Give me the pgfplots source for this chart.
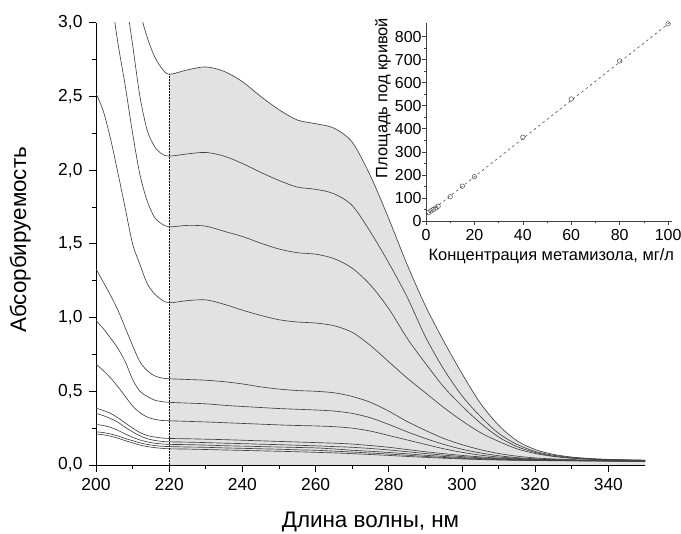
\documentclass[border=0pt]{standalone}
\usepackage{fontspec}
\setmainfont{Liberation Sans}
\usepackage{pgfplots}
\pgfplotsset{compat=1.18}
\usepackage{pgfplotstable}
\definecolor{fillgray}{RGB}{226,226,226}
\definecolor{curvecol}{RGB}{66,66,66}

\pgfplotstableread{
x a b c d e f g h i j k l
200 5.00 4.60 3.90 2.52 1.33 0.98 0.685 0.385 0.35 0.275 0.225 0.21
202 4.70 4.30 3.55 2.40 1.24 0.925 0.64 0.37 0.335 0.268 0.22 0.205
204 4.40 3.95 3.20 2.21 1.15 0.86 0.59 0.35 0.315 0.255 0.21 0.195
206 4.00 3.60 2.86 1.98 1.05 0.79 0.53 0.32 0.29 0.235 0.197 0.182
208 3.70 3.20 2.57 1.74 0.93 0.70 0.465 0.285 0.255 0.21 0.18 0.165
210 3.35 2.85 2.25 1.50 0.81 0.58 0.40 0.25 0.225 0.188 0.165 0.15
212 3.08 2.50 1.97 1.36 0.70 0.50 0.355 0.22 0.198 0.17 0.15 0.135
214 2.90 2.27 1.79 1.23 0.64 0.465 0.325 0.20 0.178 0.157 0.14 0.125
216 2.77 2.16 1.68 1.16 0.605 0.44 0.31 0.19 0.167 0.148 0.132 0.118
218 2.69 2.11 1.635 1.12 0.59 0.43 0.302 0.183 0.16 0.143 0.127 0.113
220 2.65 2.095 1.615 1.10 0.585 0.425 0.30 0.18 0.157 0.14 0.125 0.11
225 2.68 2.11 1.625 1.115 0.58 0.42 0.296 0.178 0.155 0.138 0.122 0.108
230 2.70 2.12 1.62 1.12 0.575 0.415 0.292 0.175 0.152 0.135 0.12 0.105
235 2.67 2.095 1.585 1.09 0.565 0.405 0.287 0.172 0.148 0.131 0.116 0.102
240 2.60 2.045 1.55 1.05 0.55 0.397 0.282 0.168 0.145 0.128 0.113 0.099
245 2.50 1.985 1.505 1.015 0.53 0.39 0.277 0.164 0.141 0.125 0.11 0.096
250 2.41 1.93 1.465 0.985 0.515 0.383 0.272 0.16 0.138 0.122 0.107 0.093
255 2.34 1.885 1.44 0.97 0.505 0.378 0.268 0.156 0.134 0.119 0.103 0.09
260 2.315 1.87 1.43 0.963 0.50 0.373 0.265 0.152 0.13 0.116 0.10 0.086
265 2.285 1.84 1.40 0.945 0.49 0.366 0.26 0.148 0.125 0.109 0.094 0.082
270 2.19 1.76 1.335 0.90 0.465 0.35 0.25 0.142 0.12 0.10 0.088 0.077
275 1.96 1.58 1.22 0.81 0.425 0.32 0.23 0.132 0.112 0.093 0.081 0.071
280 1.67 1.37 1.06 0.70 0.365 0.275 0.20 0.12 0.102 0.085 0.074 0.065
285 1.36 1.14 0.86 0.59 0.295 0.225 0.17 0.105 0.09 0.076 0.066 0.058
290 1.08 0.87 0.69 0.49 0.235 0.18 0.14 0.09 0.078 0.066 0.058 0.052
295 0.84 0.65 0.53 0.39 0.18 0.14 0.11 0.077 0.067 0.058 0.051 0.046
300 0.62 0.47 0.40 0.30 0.138 0.107 0.086 0.065 0.057 0.05 0.045 0.041
305 0.42 0.33 0.285 0.22 0.104 0.082 0.067 0.055 0.049 0.044 0.04 0.037
310 0.27 0.215 0.19 0.16 0.078 0.063 0.054 0.047 0.043 0.039 0.036 0.034
315 0.165 0.14 0.125 0.11 0.06 0.05 0.045 0.042 0.038 0.036 0.033 0.032
320 0.105 0.092 0.085 0.078 0.048 0.042 0.039 0.038 0.035 0.033 0.031 0.03
325 0.072 0.066 0.06 0.058 0.041 0.037 0.035 0.035 0.033 0.031 0.03 0.029
330 0.054 0.05 0.047 0.046 0.036 0.034 0.032 0.033 0.031 0.03 0.029 0.028
335 0.044 0.042 0.04 0.039 0.033 0.032 0.03 0.031 0.03 0.029 0.028 0.027
340 0.038 0.037 0.035 0.035 0.031 0.03 0.029 0.03 0.029 0.028 0.027 0.026
345 0.035 0.034 0.033 0.032 0.03 0.029 0.028 0.029 0.028 0.027 0.026 0.025
350 0.033 0.032 0.031 0.03 0.029 0.028 0.027 0.028 0.027 0.027 0.026 0.025
}\spectra

\pgfplotstableread{
c v
1 36
2 44
3 50
4 56
5 64
10 105
15 151
20 192
40 363
60 529
80 694
100 855
}\calib

\begin{document}
\begin{tikzpicture}
\useasboundingbox (0,0) rectangle (681bp,534bp);
\begin{axis}[
  at={(96bp,69bp)}, anchor=south west,
  scale only axis, width=549bp, height=442.3bp,
  xmin=200, xmax=350, ymin=0, ymax=3,
  axis x line=bottom, axis y line=left,
  axis line style={-, line width=0.9pt, black},
  xtick={200,220,...,340}, minor x tick num=1,
  ytick={0,0.5,...,3}, minor y tick num=1,
  tick align=outside, major tick length=7bp, minor tick length=4bp,
  every tick/.style={line width=0.9pt, black},
  /pgf/number format/assume math mode=true,
  y tick label style={/pgf/number format/use comma, /pgf/number format/fixed, /pgf/number format/fixed zerofill, /pgf/number format/precision=1},
  xticklabel style={yshift=-3bp},
  yticklabel style={xshift=-3bp},
  ticklabel style={font=\fontsize{17.5}{17.5}\selectfont},
  xlabel={Длина волны, нм}, ylabel={Абсорбируемость},
  label style={font=\fontsize{22.5}{22.5}\selectfont},
  xlabel style={at={(axis description cs:0.5,-0.1424)}, anchor=base},
  ylabel style={at={(axis description cs:-0.138,0.509)}, anchor=center},
]
\addplot[draw=none, fill=fillgray, smooth, restrict x to domain=220:350] table[x=x, y=a] {\spectra} \closedcycle;
\addplot[black, line width=0.7pt, dash pattern=on 1.5bp off 1.5bp] coordinates {(220,0) (220,2.65)};
\pgfplotsinvokeforeach{a,b,c,d,e,f,g,h,i,j,k,l}{
  \addplot[curvecol, line width=0.65pt, smooth, tension=0.5] table[x=x, y=#1] {\spectra};
}
\end{axis}

\begin{axis}[
  at={(426bp,313bp)}, anchor=south west,
  scale only axis, width=245.7bp, height=198.3bp,
  xmin=0, xmax=101.5, ymin=0, ymax=860,
  axis x line=bottom, axis y line=left,
  axis line style={-, line width=0.6pt, black!75},
  xtick={0,20,...,100}, minor x tick num=1,
  ytick={0,100,...,800}, minor y tick num=1,
  tick align=outside, major tick length=4bp, minor tick length=2bp,
  every tick/.style={line width=0.6pt, black!75},
  /pgf/number format/assume math mode=true,
  ticklabel style={font=\fontsize{16}{16}\selectfont},
  yticklabel style={xshift=3bp},
  xticklabel style={yshift=-1bp},
  xlabel={Концентрация метамизола, мг/л}, ylabel={Площадь под кривой},
  label style={font=\fontsize{16.5}{16.5}\selectfont},
  xlabel style={at={(axis description cs:0.51,-0.2)}, anchor=base},
  ylabel style={at={(axis description cs:-0.175,0.62)}, anchor=center},
]
\addplot[black!70, line width=0.6pt, dash pattern=on 2.5bp off 3bp] coordinates {(0,26) (101.5,867)};
\addplot[only marks, mark=o, mark size=2.3bp, mark options={black!70, line width=0.5pt}] table[x=c, y=v] {\calib};
\end{axis}
\end{tikzpicture}
\end{document}
